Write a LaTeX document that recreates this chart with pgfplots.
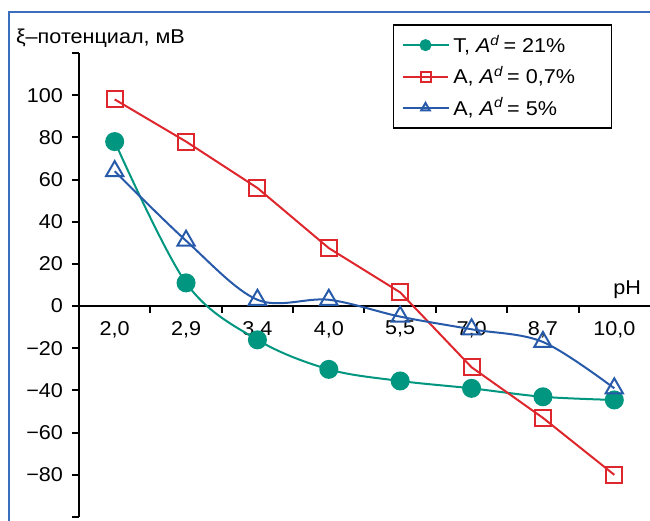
\documentclass[border=0pt]{standalone}
\usepackage{fontspec}
\setmainfont[FakeStretch=1.08]{Liberation Sans}
\usepackage{pgfplots}
\pgfplotsset{compat=1.18}
\definecolor{cgreen}{RGB}{0,150,128}
\definecolor{cred}{RGB}{222,38,45}
\definecolor{cblue}{RGB}{40,90,170}
\definecolor{cframe}{RGB}{60,110,190}
\begin{document}
\begin{tikzpicture}
\useasboundingbox (-39.5pt,-2pt) rectangle (285.5pt,258.5pt);
\begin{axis}[
  scale only axis, width=285.5pt, height=232pt,
  at={(0,0)}, anchor=south west,
  xmin=-0.5, xmax=7.5, ymin=-100, ymax=120,
  axis x line=middle, axis y line=left,
  axis line style={-, line width=1pt, black},
  ytick={-100,-80,...,120},
  yticklabels={,−80,−60,−40,−20,0,20,40,60,80,100,},
  yticklabel style={xshift=-1pt},
  xtick={0.5,1.5,...,6.5},
  xticklabels={},
  extra x ticks={0,1,...,7},
  extra x tick labels={{2,0},{2,9},{3,4},{4,0},{5,5},{7,0},{8,7},{10,0}},
  extra x tick style={major tick length=0pt, xticklabel style={yshift=-4pt}},
  tick align=outside,
  major tick length=3.5pt,
  tick style={line width=1pt, black},
  font=\fontsize{10}{12}\selectfont,
  clip=false,
  legend style={at={(0.55,1.062)}, anchor=north west, draw=black, line width=0.7pt,
    font=\fontsize{10}{12}\selectfont, row sep=1.5pt, inner xsep=4pt, inner ysep=3pt},
  legend cell align=left,
  legend image code/.code={\draw[mark repeat=2,mark phase=2,mark size=2.5pt] plot coordinates {(0cm,0cm)(0.4cm,0cm)(0.8cm,0cm)};},
]
\addplot[cgreen, line width=1pt, smooth, tension=0.55, mark=*, mark size=4.25pt, mark options={fill=cgreen}]
  coordinates {(0,78)(1,11)(2,-16)(3,-30)(4,-35.5)(5,-39)(6,-43)(7,-44.5)};
\addlegendentry{Т, \textit{A}\textsuperscript{\textit{d}}\,= 21\%\hspace*{17pt}}
\addplot[cred, line width=1pt, mark=square, mark size=4pt]
  coordinates {(0,98)(1,78)(2,56)(3,27.5)(4,6.5)(5,-29)(6,-53)(7,-80)};
\addlegendentry{А, \textit{A}\textsuperscript{\textit{d}}\,= 0,7\%}
\addplot[cblue, line width=1pt, smooth, tension=0.55, mark=triangle, mark size=5pt]
  coordinates {(0,64)(1,31)(2,3)(3,3)(4,-5)(5,-11)(6,-17)(7,-39)};
\addlegendentry{А, \textit{A}\textsuperscript{\textit{d}}\,= 5\%}
\node[anchor=base west, xshift=-35pt, yshift=5pt] at (rel axis cs:0,1) {ξ–потенциал, мВ};
\node[anchor=base east, xshift=-1pt, yshift=6pt] at (axis cs:7.5,0) {pH};
\end{axis}
\draw[cframe, line width=0.6pt] (-35pt,-20pt) rectangle (320pt,252.5pt);
\end{tikzpicture}
\end{document}
